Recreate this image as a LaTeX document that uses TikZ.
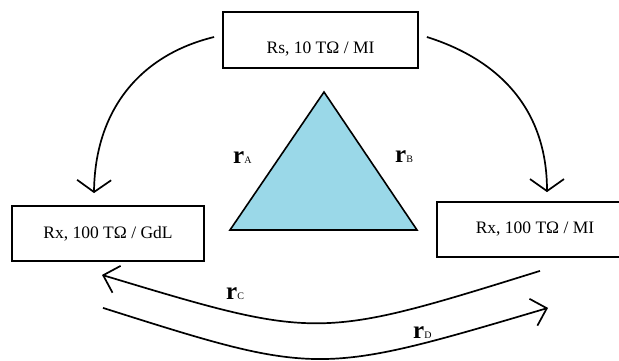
\documentclass[tikz,border=0pt]{standalone}
\usepackage{fontspec}
\setmainfont{Liberation Serif}
\usetikzlibrary{arrows.meta}
\definecolor{triblue}{RGB}{154,216,232}
\newcommand{\rlabel}[1]{r{\fontsize{10}{10}\selectfont\mdseries #1}}

\begin{document}
\begin{tikzpicture}[x=1pt,y=-1pt,
  box/.style={draw,line width=1.8pt,minimum width=192pt,minimum height=55pt,inner sep=0pt,font=\fontsize{17.5}{20}\selectfont},
  link/.style={line width=1.7pt,-{Straight Barb[length=12pt,width=34pt]}},
  backlink/.style={line width=1.7pt,-{Straight Barb[length=14pt,width=28pt]}},
  rlab/.style={anchor=base west,inner sep=0pt,font=\fontsize{25}{25}\selectfont\bfseries}]
\useasboundingbox (0,0) rectangle (619,360);
\node[box,minimum width=195pt,minimum height=56pt,text height=30pt,text depth=4pt] (rs) at (320.5,40) {Rs, 10 TΩ / MI};
\node[box] (gdl) at (108,233.5) {Rx, 100 TΩ / GdL};
\node[box,minimum width=196pt] (mi) at (535,229.5) {Rx, 100 TΩ / MI};
\draw[line width=1.6pt,fill=triblue] (324,92) -- (417,230) -- (230,230) -- cycle;
\node[rlab] (ra) at (233,163) {\rlabel{A}};
\node[rlab] (rb) at (395,162) {\rlabel{B}};
\node[rlab] (rc) at (226,299) {\rlabel{C}};
\node[rlab] (rd) at (413,338) {\rlabel{D}};
\draw[link] ([xshift=-8pt,yshift=3pt]rs.west) .. controls (140,55) and (95,110) .. ([xshift=-14pt,yshift=12pt]gdl.north);
\draw[link] ([xshift=8pt,yshift=3pt]rs.east) .. controls (500,60) and (547,110) .. ([xshift=12pt,yshift=9pt]mi.north);
\draw[backlink] ([xshift=5pt,yshift=-13pt]mi.south) .. controls (318,340) .. ([xshift=-6pt,yshift=-13pt]gdl.south);
\draw[backlink] ([xshift=-5pt,yshift=-46pt]gdl.south) .. controls (318,376) .. ([xshift=13pt,yshift=-50pt]mi.south);
\end{tikzpicture}
\end{document}
